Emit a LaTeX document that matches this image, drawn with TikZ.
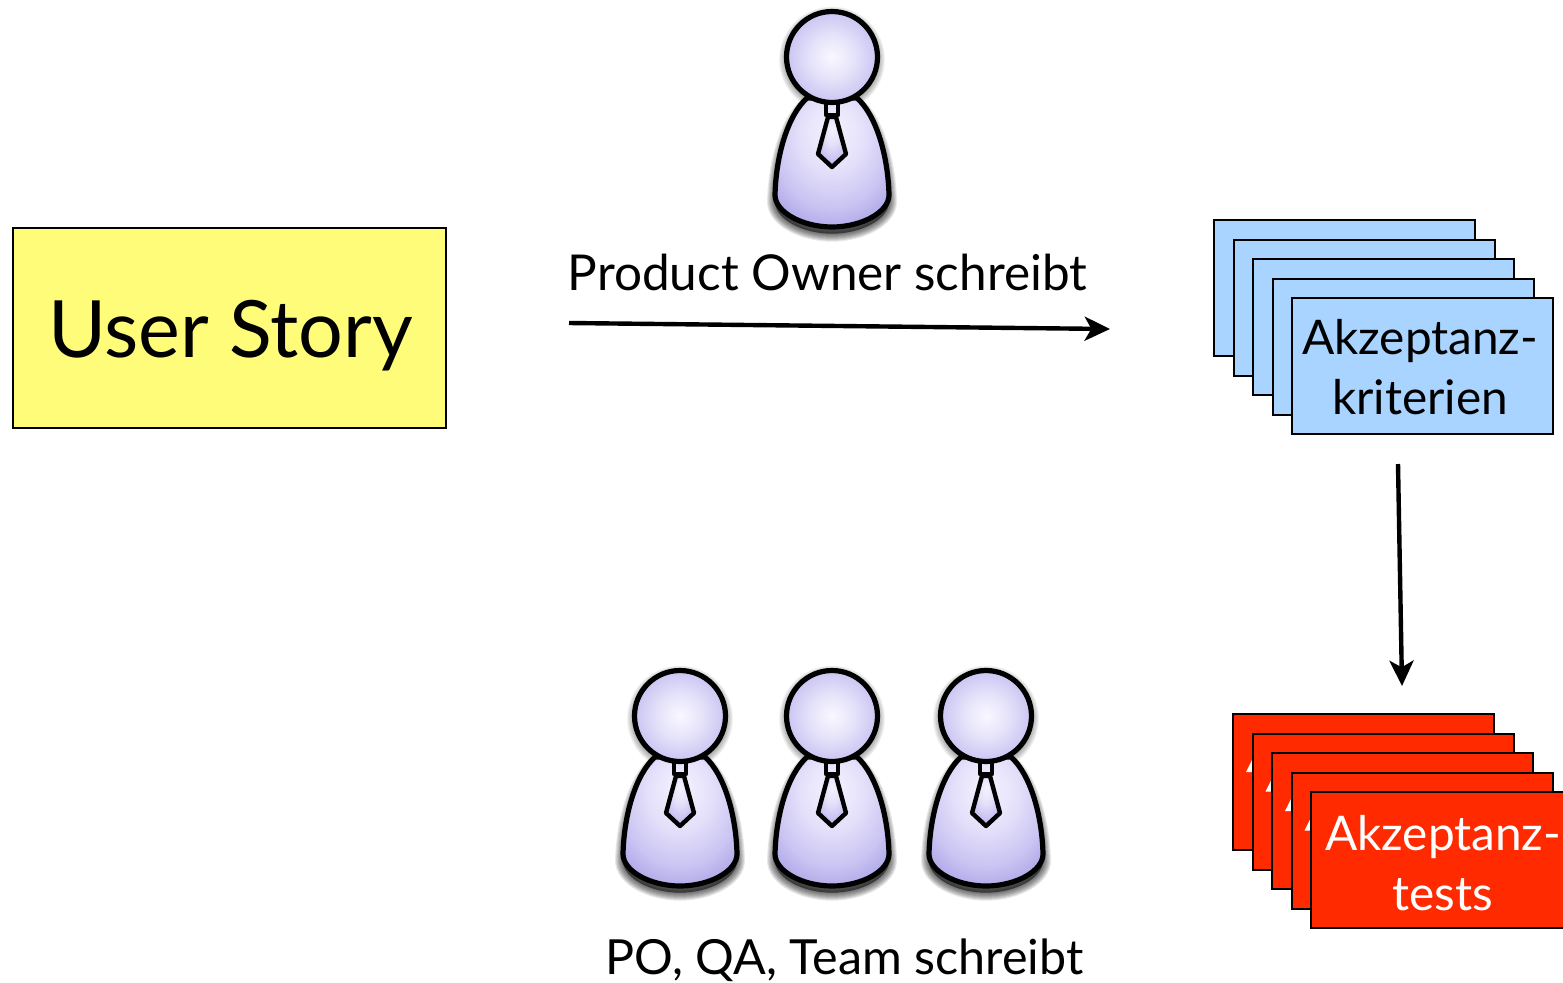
\documentclass[tikz,border=0pt]{standalone}
\usepackage{fontspec}
\setmainfont{Lato}
\usetikzlibrary{arrows.meta}
\definecolor{noteyellow}{HTML}{FFFC79}
\definecolor{cardblue}{HTML}{A8D4FF}
\definecolor{cardred}{HTML}{FF2A00}
\definecolor{knotfill}{HTML}{E8E6FC}
\pgfdeclareradialshading{headshade}{\pgfpoint{0bp}{0bp}}{%
  rgb(0bp)=(0.98,0.97,1); rgb(12bp)=(0.90,0.89,0.98); rgb(25bp)=(0.79,0.77,0.95); rgb(50bp)=(0.72,0.70,0.93)}
\pgfdeclareradialshading{bodyshade}{\pgfpoint{0bp}{14bp}}{%
  rgb(0bp)=(0.96,0.95,1); rgb(14bp)=(0.90,0.88,0.98); rgb(26bp)=(0.79,0.77,0.95); rgb(36bp)=(0.66,0.63,0.90); rgb(70bp)=(0.60,0.56,0.87)}
\newcommand{\bodyoutline}{(-25,41) .. controls (-44,58) and (-56,98) .. (-57,138)
  .. controls (-57,155) and (-30,170) .. (0,170)
  .. controls (30,170) and (57,155) .. (57,138)
  .. controls (56,98) and (44,58) .. (25,41) -- cycle}
\tikzset{
  px/.style={x=0.75pt,y=-0.75pt},
  outline/.style={draw=black,line width=3.9pt,line join=round},
  card/.style={draw=black,line width=1.5pt,minimum width=195.75pt,minimum height=102pt,inner sep=0pt},
  bluecard/.style={card,fill=cardblue},
  redcard/.style={card,fill=cardred},
  sliver/.style={fill=white,draw=none},
  cardtext/.style={inner sep=0pt,align=center,font=\fontsize{35.8}{45}\selectfont},
  flow/.style={line width=3.3pt,-{Stealth[length=19pt,width=18pt,inset=5pt]}},
  caption/.style={inner sep=0pt,text=black},
  person/.pic={
    \foreach \w in {1,...,8}{
      \path[draw=black,fill=black,draw opacity=0.09,fill opacity=0.09,line width=\w*1.5pt,line join=round,yshift=-5pt]
        \bodyoutline;
      \path[draw=black,fill=black,draw opacity=0.05,fill opacity=0.05,line width=\w*1.4pt,yshift=-2pt]
        (0,0) circle[radius=45.5];
    }
    \path[outline,shading=bodyshade] \bodyoutline;
    \path[outline,line width=3.3pt,shading=bodyshade]
      (-4,60) -- (-14,97) -- (0,110) -- (14,97) -- (4,60) -- cycle;
    \path[outline,line width=3.4pt,fill=knotfill] (-6,46) rectangle (6,58);
    \path[outline,shading=headshade] (0,0) circle[radius=45.5];
  }
}
\begin{document}
\begin{tikzpicture}[px]
\clip (0,0) rectangle (1563,982);
\node[card,fill=noteyellow,minimum width=324.75pt,minimum height=150pt] (story) at (229.5,328) {};
\node[inner sep=0pt,font=\fontsize{59.3}{64}\selectfont] (storyText) at (230.5,336) {User Story};

\pic (po) at (832,57) {person};
\pic (qa) at (680,716) {person};
\pic (tm) at (832,716) {person};
\pic (sm) at (986,716) {person};

\node[caption,font=\fontsize{37.1}{44}\selectfont] (poLabel) at (827.5,272) {Product Owner schreibt};
\node[caption,font=\fontsize{36.3}{44}\selectfont] (teamLabel) at (844.5,960) {PO, QA, Team schreibt};

\node[bluecard] (b1) at (1344.5,288) {};
\node[bluecard] (b2) at (1364,307.5) {};
\node[bluecard] (b3) at (1383.5,327) {};
\node[bluecard] (b4) at (1403,346.5) {};
\node[bluecard] (b5) at (1422.5,366) {};
\node[cardtext,text=black] (b5text) at (1420,367) {Akzeptanz-\\kriterien};

\node[redcard] (r1) at (1363.5,782) {};
\path[sliver] (1246,772) -- (1254,772) -- (1254,756) -- cycle;
\node[redcard] (r2) at (1383,801.5) {};
\path[sliver] (1265.5,791.5) -- (1273.5,791.5) -- (1273.5,775.5) -- cycle;
\node[redcard] (r3) at (1402.5,821) {};
\path[sliver] (1285,811) -- (1293,811) -- (1293,795) -- cycle;
\node[redcard] (r4) at (1422,840.5) {};
\path[sliver] (1304.5,830.5) -- (1312.5,830.5) -- (1312.5,814.5) -- cycle;
\node[redcard] (r5) at (1441.5,860) {};
\node[cardtext,text=white] (r5text) at (1443,863) {Akzeptanz-\\tests};

\coordinate (a1s) at (569,323);
\coordinate (a1e) at (1110,329);
\coordinate (a2s) at (1398,464);
\coordinate (a2e) at (1402,686);
\draw[flow] (a1s) -- (a1e);
\draw[flow] (a2s) -- (a2e);
\end{tikzpicture}
\end{document}
